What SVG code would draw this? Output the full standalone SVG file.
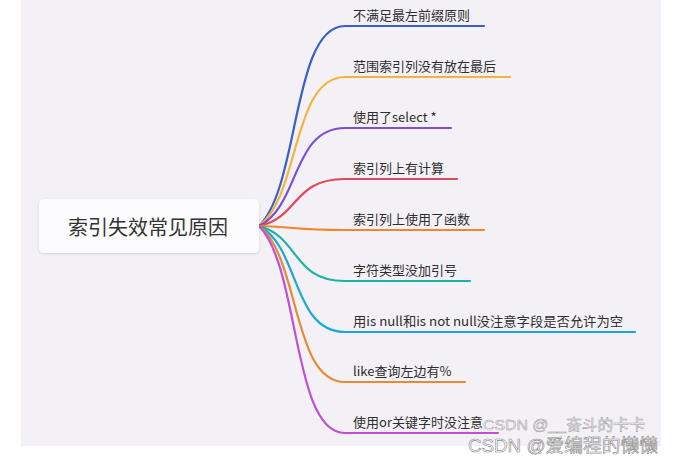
<svg xmlns="http://www.w3.org/2000/svg" width="675" height="462" viewBox="0 0 675 462">
  <defs>
    <filter id="sh" x="-10%" y="-30%" width="120%" height="160%">
      <feDropShadow dx="0" dy="1" stdDeviation="1.5" flood-color="#000" flood-opacity="0.12"/>
    </filter>
    <style>
      .br { fill: none; stroke-width: 2.2; stroke-linecap: round; }
      .lbl { font-family: "Noto Sans CJK SC", "Noto Sans", sans-serif; font-size: 13px; fill: #2e2e2e; }
      .root { font-family: "Noto Sans CJK SC", "Noto Sans", sans-serif; font-size: 20px; fill: #333; }
      .wm { font-family: "Liberation Sans", "Noto Sans CJK SC", sans-serif; }
    </style>
  </defs>
  <rect x="0" y="0" width="675" height="462" fill="#ffffff"/>
  <rect x="21" y="0" width="640" height="446" fill="#f4f1f6"/>

  <g id="connectors">
    <path class="br" stroke="#3a5fc8" d="M259,226 C300,186 292,26 345,26 H484"/>
    <path class="br" stroke="#f2b43c" d="M259,226 C300,196 292,77 345,77 H510"/>
    <path class="br" stroke="#7a4fd4" d="M259,226 C300,206 292,128 345,128 H451"/>
    <path class="br" stroke="#de4a5c" d="M259,226 C300,217 292,179 345,179 H457"/>
    <path class="br" stroke="#f0862e" d="M259,226 C300,227 292,230 345,230 H484"/>
    <path class="br" stroke="#1cb3a6" d="M259,226 C300,237 292,281 345,281 H470"/>
    <path class="br" stroke="#1ea6d6" d="M259,226 C300,247 292,332 345,332 H635"/>
    <path class="br" stroke="#e88a34" d="M259,226 C300,257 292,382 345,382 H465"/>
    <path class="br" stroke="#c04fd4" d="M259,226 C300,267 292,433 345,433 H498"/>
  </g>

  <g id="root">
    <rect x="39" y="199" width="220" height="54" rx="5" fill="#fcfbfd" filter="url(#sh)"/>
    <text class="root" x="148" y="235" text-anchor="middle">索引失效常见原因</text>
  </g>

  <g id="n1"><text class="lbl" x="353" y="20">不满足最左前缀原则</text></g>
  <g id="n2"><text class="lbl" x="353" y="71">范围索引列没有放在最后</text></g>
  <g id="n3"><text class="lbl" x="353" y="122">使用了select *</text></g>
  <g id="n4"><text class="lbl" x="353" y="173">索引列上有计算</text></g>
  <g id="n5"><text class="lbl" x="353" y="224">索引列上使用了函数</text></g>
  <g id="n6"><text class="lbl" x="353" y="275">字符类型没加引号</text></g>
  <g id="n7"><text class="lbl" x="353" y="326" textLength="270" lengthAdjust="spacingAndGlyphs">用is null和is not null没注意字段是否允许为空</text></g>
  <g id="n8"><text class="lbl" x="353" y="376">like查询左边有%</text></g>
  <g id="n9"><text class="lbl" x="353" y="427">使用or关键字时没注意</text></g>

  <g id="watermark">
    <text class="wm" x="483" y="430" font-size="15" textLength="162" lengthAdjust="spacingAndGlyphs" fill="#ffffff" fill-opacity="0.6" stroke="#9a9a9a" stroke-width="0.5">CSDN @__奋斗的卡卡</text>
    <text class="wm" x="468" y="452" font-size="18" textLength="190" lengthAdjust="spacingAndGlyphs" fill="#ffffff" stroke="#8c8c8c" stroke-width="0.6">CSDN @爱编程的懒懒</text>
  </g>
</svg>
